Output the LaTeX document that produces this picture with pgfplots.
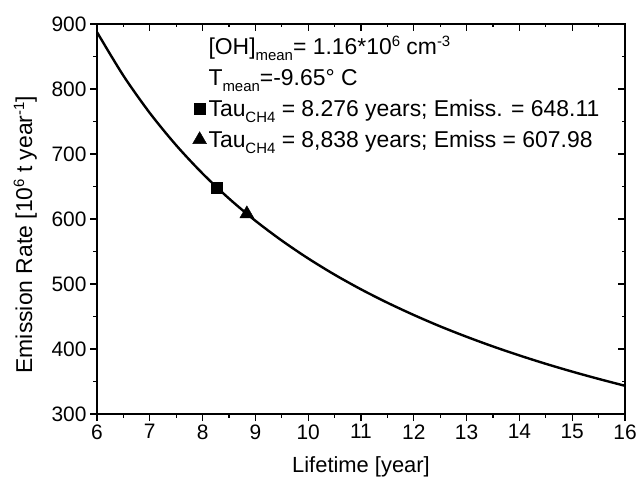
\documentclass[border=0pt]{standalone}
\usepackage{pgfplots}
\pgfplotsset{compat=1.18}
\usepackage{fontspec}
\setmainfont{Liberation Sans}
\newcommand\sub[1]{\raisebox{-6bp}{\fontsize{15}{16}\selectfont #1}}
\newcommand\sups[1]{\raisebox{8bp}{\fontsize{15}{16}\selectfont #1}}

\begin{document}
\begin{tikzpicture}
\useasboundingbox (-97bp,-70bp) rectangle (541bp,414bp);
\pgfplotsset{
  common/.style={
    at={(0,0)}, anchor=south west,
    scale only axis, width=528bp, height=390bp,
    xmin=6, xmax=16, ymin=300, ymax=900,
    xtick={6,7,...,16}, ytick={300,400,...,900},
    minor x tick num=1, minor y tick num=1,
    major tick length=7bp, minor tick length=3.5bp,
    every tick/.style={line width=1.2bp, black},
    axis line style={line width=1.3bp},
    tick label style={font=\fontsize{21}{24}\selectfont},
    label style={font=\fontsize{22}{26}\selectfont},
    /pgf/number format/assume math mode=true,
  }
}
% top/right ticks point inwards
\begin{axis}[common,
  axis x line*=top, axis y line*=right,
  tick align=inside,
  xticklabels={}, yticklabels={},
]
\end{axis}
\begin{axis}[common,
  tick align=outside,
  xtick pos=bottom, ytick pos=left,
  xlabel={Lifetime [year]},
  ylabel={Emission Rate [10\sups{6} t year\sups{-1}]},
  xlabel style={at={(axis description cs:0.5,-0.136)}, anchor=center},
  ylabel style={at={(axis description cs:-0.136,0.46)}, anchor=center,
    font=\fontsize{23}{26}\selectfont},
  legend cell align=left,
  legend style={draw=none, fill=none, at={(axis description cs:0.176,0.977)},
    anchor=north west, row sep=9bp, inner sep=1bp,
    font=\fontsize{23}{26}\selectfont},
]
\addlegendimage{empty legend}
\addlegendentry{[OH]\sub{mean}= 1.16*10\sups{6} cm\sups{-3}}
\addlegendimage{empty legend}
\addlegendentry{T\sub{mean}=-9.65° C}

\addplot[black, line width=2.4bp, smooth, forget plot] coordinates {
(6,887.5) (6.5,820.5) (7,763.1) (7.5,713.4) (8,669.9) (8.5,631.5)
(9,597.3) (9.5,566.8) (10,539.3) (10.5,514.4) (11,491.8) (11.5,471.2)
(12,452.3) (12.5,434.8) (13,418.8) (13.5,403.9) (14,390.1) (14.5,377.2)
(15,365.2) (15.5,354.0) (16,343.4)
};
\addplot[only marks, mark=square*, mark size=5.5bp, black] coordinates {(8.276,648.11)};
\addlegendentry{Tau\sub{CH4} = 8.276 years; Emiss. = 648.11}
\addplot[only marks, mark=triangle*, mark size=8bp, black] coordinates {(8.838,607.98)};
\addlegendentry{Tau\sub{CH4} = 8,838 years; Emiss = 607.98}
\end{axis}
\end{tikzpicture}
\end{document}
